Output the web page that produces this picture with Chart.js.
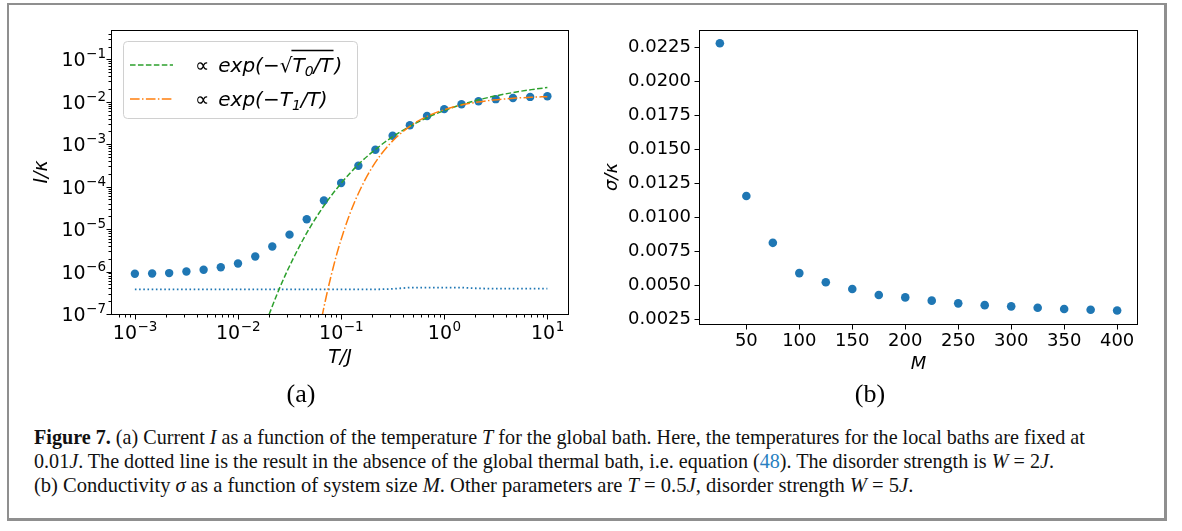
<!DOCTYPE html>
<html>
<head>
<meta charset="utf-8">
<script src="https://cdn.jsdelivr.net/npm/chart.js@4.4.1/dist/chart.umd.min.js"></script>
<style>
  body { margin: 0; background: #fff; width: 1182px; height: 531px; position: relative; overflow: hidden; }
  #frame { position: absolute; left: 7px; top: 3px; width: 1160px; height: 518px; box-sizing: border-box;
           border: 2px solid #8f8f8f; border-right-width: 3px; border-bottom-width: 3px; }
  canvas { position: absolute; }
  #chartA { left: 10px; top: 10px; }
  #chartB { left: 595px; top: 10px; }
  .sub { position: absolute; top: 379px; font-family: "Liberation Serif", serif; font-size: 26px; line-height: 30px; transform: translateX(-50%); }
  .cap { position: absolute; left: 34px; font-family: "Liberation Serif", serif; font-size: 21px; line-height: 22px;
         white-space: nowrap; transform-origin: 0 50%; color: #111; }
  .cap i { font-style: italic; }
  .ref { color: #2a7fc1; }
</style>
</head>
<body>
<div id="frame"></div>
<canvas id="chartA" width="580" height="370"></canvas>
<canvas id="chartB" width="570" height="375"></canvas>
<div class="sub" style="left:301px">(a)</div>
<div class="sub" style="left:870px">(b)</div>
<div class="cap" id="cap1" style="top:426px" data-w="1051"><b>Figure 7.</b> (a) Current <i>I</i> as a function of the temperature <i>T</i> for the global bath. Here, the temperatures for the local baths are fixed at</div>
<div class="cap" id="cap2" style="top:450px" data-w="1020">0.01<i>J</i>. The dotted line is the result in the absence of the global thermal bath, i.e. equation (<span class="ref">48</span>). The disorder strength is <i>W</i> = 2<i>J</i>.</div>
<div class="cap" id="cap3" style="top:474px" data-w="879">(b) Conductivity <i>σ</i> as a function of system size <i>M</i>. Other parameters are <i>T</i> = 0.5<i>J</i>, disorder strength <i>W</i> = 5<i>J</i>.</div>

<script>
"use strict"

// ---- panel (a): current vs temperature ----
const temps = [0.001, 0.00147, 0.00215, 0.00316, 0.00464, 0.00681, 0.01, 0.0147, 0.0215, 0.0316, 0.0464, 0.0681,
  0.1, 0.147, 0.215, 0.316, 0.464, 0.681, 1, 1.47, 2.15, 3.16, 4.64, 6.81, 10]
const current = [8.9e-7, 9.0e-7, 9.2e-7, 1.0e-6, 1.1e-6, 1.26e-6, 1.55e-6, 2.26e-6, 3.9e-6, 7.4e-6, 1.7e-5, 4.7e-5,
  1.22e-4, 3.1e-4, 7.4e-4, 1.58e-3, 2.8e-3, 4.6e-3, 6.7e-3, 8.7e-3, 1.03e-2, 1.15e-2, 1.23e-2, 1.30e-2, 1.35e-2]
const noGlobalBath = [3.8e-7, 3.8e-7, 3.8e-7, 3.8e-7, 3.8e-7, 3.8e-7, 3.8e-7, 3.8e-7, 3.8e-7, 3.8e-7, 3.8e-7, 3.8e-7,
  3.8e-7, 3.8e-7, 3.8e-7, 3.9e-7, 4.2e-7, 4.2e-7, 4.2e-7, 4.2e-7, 4.0e-7, 3.95e-7, 3.95e-7, 3.95e-7, 3.95e-7]

const fitTempsSqrt = [0.02, 0.025, 0.03, 0.04, 0.05, 0.07, 0.1, 0.15, 0.2, 0.3, 0.5, 0.7, 1, 1.5, 2, 3, 5, 7, 10]
const fitSqrt = [9.7e-8, 3.8e-7, 1.03e-6, 4.2e-6, 1.1e-5, 3.9e-5, 1.2e-4, 3.5e-4, 6.5e-4, 1.38e-3, 2.9e-3, 4.35e-3,
  6.2e-3, 8.7e-3, 1.06e-2, 1.34e-2, 1.70e-2, 1.93e-2, 2.16e-2]

const fitTempsLin = [0.065, 0.07, 0.08, 0.09, 0.1, 0.12, 0.15, 0.2, 0.3, 0.5, 0.7, 1, 1.5, 2, 3, 5, 7, 10]
const fitLin = [8.3e-8, 1.97e-7, 8.0e-7, 2.4e-6, 5.7e-6, 2.1e-5, 7.7e-5, 2.85e-4, 1.05e-3, 2.98e-3, 4.66e-3, 6.5e-3,
  8.5e-3, 9.65e-3, 1.10e-2, 1.22e-2, 1.275e-2, 1.32e-2]

// major ticks and their exponents (labels are 10^exp)
const tempMajor = [1e-3, 1e-2, 1e-1, 1, 10]
const tempExp = ['\u22123', '\u22122', '\u22121', '0', '1']
const currentMajor = [1e-7, 1e-6, 1e-5, 1e-4, 1e-3, 1e-2, 1e-1]
const currentExp = ['\u22127', '\u22126', '\u22125', '\u22124', '\u22123', '\u22122', '\u22121']

// ---- panel (b): conductivity vs system size ----
const sizes = [25, 50, 75, 100, 125, 150, 175, 200, 225, 250, 275, 300, 325, 350, 375, 400]
const sigma = [0.0228, 0.01155, 0.0081, 0.00587, 0.0052, 0.0047, 0.00426, 0.00408, 0.00384, 0.00364, 0.00351,
  0.00342, 0.00332, 0.00322, 0.00317, 0.00312]
const sizeTicks = [50, 100, 150, 200, 250, 300, 350, 400]
const sigmaTicks = [0.0025, 0.0050, 0.0075, 0.0100, 0.0125, 0.0150, 0.0175, 0.0200, 0.0225]

const BLUE = '#1f77b4'
const ORANGE = '#ff7f0e'
const GREEN = '#2ca02c'
const TICK_FONT = { family: 'DejaVu Sans', size: 18 }
const TITLE_FONT = { family: 'DejaVu Sans', size: 18, style: 'italic' }
const TITLE_FONT_A = { family: 'DejaVu Sans', size: 19, style: 'italic' }

function pts(xs, ys) {
  return xs.map((x, i) => ({ x: x, y: ys[i] }))
}

function logTicks(majors, min, max) {
  let out = []
  let lo = Math.floor(Math.log10(min)), hi = Math.ceil(Math.log10(max))
  for (let e = lo; e <= hi; e++) {
    for (let m = 1; m <= 9; m++) {
      let v = m * Math.pow(10, e)
      if (v < min * 0.999 || v > max * 1.001) continue
      let major = majors.some(mj => Math.abs(mj - v) / mj < 1e-6)
      out.push({ value: v, major: major })
    }
  }
  return out
}

function expFor(majors, exps, value) {
  let i = majors.findIndex(mj => Math.abs(mj - value) / mj < 1e-6)
  return i >= 0 ? exps[i] : null
}

// frame around the axes + matplotlib-like outward ticks
const frameTicks = {
  id: 'frameTicks',
  afterDraw(chart) {
    const ctx = chart.ctx
    const a = chart.chartArea
    const sx = chart.scales.x, sy = chart.scales.y
    ctx.save()
    ctx.strokeStyle = '#000'
    ctx.lineWidth = 1
    ctx.strokeRect(Math.round(a.left) - 0.5, Math.round(a.top) + 0.5,
      Math.round(a.right - a.left) + 1, Math.round(a.bottom - a.top))
    ctx.beginPath()
    for (const t of sx.ticks) {
      const px = Math.round(sx.getPixelForValue(t.value)) + 0.5
      const len = t.major ? 5 : 3
      ctx.moveTo(px, Math.round(a.bottom) + 0.5)
      ctx.lineTo(px, Math.round(a.bottom) + 0.5 + len)
    }
    for (const t of sy.ticks) {
      const py = Math.round(sy.getPixelForValue(t.value)) + 0.5
      const len = t.major ? 5 : 3
      ctx.moveTo(Math.round(a.left) - 0.5, py)
      ctx.lineTo(Math.round(a.left) - 0.5 - len, py)
    }
    ctx.stroke()
    ctx.restore()
  }
}

// 10^n labels with a real superscript for the log axes of panel (a)
const powerLabels = {
  id: 'powerLabels',
  afterDraw(chart) {
    const ctx = chart.ctx
    const a = chart.chartArea
    const sx = chart.scales.x, sy = chart.scales.y
    const base = '19px "DejaVu Sans"', sup = '13.5px "DejaVu Sans"'
    ctx.save()
    ctx.fillStyle = '#000'
    ctx.textBaseline = 'alphabetic'
    ctx.textAlign = 'left'
    const measure = (e) => {
      ctx.font = base
      const w1 = ctx.measureText('10').width
      ctx.font = sup
      return [w1, ctx.measureText(e).width]
    }
    const put = (e, x, y) => {
      const [w1] = measure(e)
      ctx.font = base
      ctx.fillText('10', x, y)
      ctx.font = sup
      ctx.fillText(e, x + w1 + 0.5, y - 8)
    }
    for (const t of sx.ticks) {
      const e = expFor(tempMajor, tempExp, t.value)
      if (e === null) continue
      const [w1, w2] = measure(e)
      put(e, sx.getPixelForValue(t.value) - (w1 + w2) / 2, a.bottom + 25)
    }
    for (const t of sy.ticks) {
      const e = expFor(currentMajor, currentExp, t.value)
      if (e === null) continue
      const [w1, w2] = measure(e)
      put(e, a.left - 6 - (w1 + w2 + 0.5), sy.getPixelForValue(t.value) + 7)
    }
    ctx.restore()
  }
}

// legend of panel (a), drawn by hand because of the square root in the label
function drawParts(ctx, parts, x, y) {
  let marks = {}
  for (const p of parts) {
    if (p.mark) { marks[p.mark] = x; continue }
    if (p.gap) { x += p.gap; continue }
    ctx.font = p.f
    ctx.fillText(p.t, x, y + (p.dy || 0))
    x += ctx.measureText(p.t).width
  }
  return marks
}

const legendA = {
  id: 'legendA',
  afterDraw(chart) {
    const ctx = chart.ctx
    const a = chart.chartArea
    const bx = a.left + 11, by = a.top + 11, bw = 234, bh = 77
    ctx.save()
    ctx.beginPath()
    ctx.roundRect(bx + 0.5, by + 0.5, bw, bh, 4)
    ctx.fillStyle = 'rgba(255,255,255,0.8)'
    ctx.fill()
    ctx.strokeStyle = '#d0d0d0'
    ctx.lineWidth = 1
    ctx.stroke()

    const rows = [
      { y: by + 24, color: GREEN, dash: [5.55, 2.4] },
      { y: by + 58, color: ORANGE, dash: [9.6, 2.4, 1.5, 2.4] }
    ]
    for (const r of rows) {
      ctx.beginPath()
      ctx.setLineDash(r.dash)
      ctx.strokeStyle = r.color
      ctx.lineWidth = 1.5
      ctx.moveTo(bx + 7, r.y)
      ctx.lineTo(bx + 50, r.y)
      ctx.stroke()
    }
    ctx.setLineDash([])
    ctx.fillStyle = '#000'
    ctx.textBaseline = 'alphabetic'
    const up = '20px "DejaVu Sans"'
    const it = 'italic 20px "DejaVu Sans"'
    const small = 'italic 14px "DejaVu Sans"'
    const tx = bx + 72
    const m = drawParts(ctx, [
      { t: '\u221D', f: up }, { gap: 9 }, { t: 'exp(\u2212', f: it }, { t: '\u221A', f: up }, { mark: 's' },
      { t: 'T', f: it }, { t: '0', f: small, dy: 4 }, { t: '/T', f: it }, { mark: 'e' }, { gap: 2 }, { t: ')', f: it }
    ], tx, rows[0].y + 7)
    ctx.beginPath()
    ctx.strokeStyle = '#000'
    ctx.lineWidth = 1.3
    ctx.moveTo(m.s - 1, rows[0].y - 14.5)
    ctx.lineTo(m.e + 1, rows[0].y - 14.5)
    ctx.stroke()
    drawParts(ctx, [
      { t: '\u221D', f: up }, { gap: 9 }, { t: 'exp(\u2212T', f: it }, { t: '1', f: small, dy: 4 }, { t: '/T)', f: it }
    ], tx, rows[1].y + 7)
    ctx.restore()
  }
}

const xMinA = 6.31e-4, xMaxA = 15.85, yMinA = 1e-7, yMaxA = 0.49

new Chart(document.getElementById('chartA'), {
  type: 'scatter',
  data: {
    datasets: [
      { data: pts(fitTempsLin, fitLin), showLine: true, borderColor: ORANGE, borderWidth: 1.5,
        borderDash: [9.6, 2.4, 1.5, 2.4], pointRadius: 0, cubicInterpolationMode: 'monotone', order: 0 },
      { data: pts(fitTempsSqrt, fitSqrt), showLine: true, borderColor: GREEN, borderWidth: 1.5,
        borderDash: [5.55, 2.4], pointRadius: 0, cubicInterpolationMode: 'monotone', order: 1 },
      { data: pts(temps, noGlobalBath), showLine: true, borderColor: BLUE, borderWidth: 1.8,
        borderDash: [1.6, 2.6], pointRadius: 0, order: 2 },
      { data: pts(temps, current), backgroundColor: BLUE, borderWidth: 0, pointRadius: 4.2, order: 3 }
    ]
  },
  options: {
    responsive: false,
    devicePixelRatio: 1,
    animation: false,
    events: [],
    layout: { padding: { left: 0, top: 20, right: 22, bottom: 0 } },
    plugins: { legend: { display: false }, tooltip: { enabled: false } },
    scales: {
      x: {
        type: 'logarithmic', min: xMinA, max: xMaxA,
        afterBuildTicks: (s) => { s.ticks = logTicks(tempMajor, xMinA, xMaxA) },
        afterFit: (s) => { s.height = 66 },
        grid: { drawOnChartArea: false, drawTicks: true, tickLength: 5, tickColor: 'rgba(0,0,0,0)' },
        border: { display: false },
        ticks: { autoSkip: false, maxRotation: 0, padding: 2, color: '#000', font: TICK_FONT, callback: () => '' },
        title: { display: true, text: 'T/J', color: '#000', font: TITLE_FONT_A, padding: { top: 0, bottom: 11 } }
      },
      y: {
        type: 'logarithmic', min: yMinA, max: yMaxA,
        afterBuildTicks: (s) => { s.ticks = logTicks(currentMajor, yMinA, yMaxA) },
        afterFit: (s) => { s.width = 102 },
        grid: { drawOnChartArea: false, drawTicks: true, tickLength: 5, tickColor: 'rgba(0,0,0,0)' },
        border: { display: false },
        ticks: { autoSkip: false, padding: 2, color: '#000', font: TICK_FONT, callback: () => '' },
        title: { display: true, text: 'I/\u03BA', color: '#000', font: TITLE_FONT_A, padding: { top: 21, bottom: 0 } }
      }
    }
  },
  plugins: [frameTicks, powerLabels, legendA]
})

new Chart(document.getElementById('chartB'), {
  type: 'scatter',
  data: {
    datasets: [
      { data: pts(sizes, sigma), backgroundColor: BLUE, borderWidth: 0, pointRadius: 4.3 }
    ]
  },
  options: {
    responsive: false,
    devicePixelRatio: 1,
    animation: false,
    events: [],
    layout: { padding: { left: 0, top: 20, right: 28, bottom: 0 } },
    plugins: { legend: { display: false }, tooltip: { enabled: false } },
    scales: {
      x: {
        type: 'linear', min: 6.25, max: 418.75,
        afterBuildTicks: (s) => { s.ticks = sizeTicks.map(v => ({ value: v, major: true })) },
        afterFit: (s) => { s.height = 61 },
        grid: { drawOnChartArea: false, drawTicks: true, tickLength: 5, tickColor: 'rgba(0,0,0,0)' },
        border: { display: false },
        ticks: { autoSkip: false, maxRotation: 0, padding: 2, color: '#000', font: TICK_FONT,
          callback: (v) => String(v) },
        title: { display: true, text: 'M', color: '#000', font: TITLE_FONT, padding: { top: 0, bottom: 10 } }
      },
      y: {
        type: 'linear', min: 0.00212, max: 0.02378,
        afterBuildTicks: (s) => { s.ticks = sigmaTicks.map(v => ({ value: v, major: true })) },
        afterFit: (s) => { s.width = 105 },
        grid: { drawOnChartArea: false, drawTicks: true, tickLength: 5, tickColor: 'rgba(0,0,0,0)' },
        border: { display: false },
        ticks: { autoSkip: false, padding: 4, color: '#000', font: TICK_FONT,
          callback: (v) => v.toFixed(4) },
        title: { display: true, text: '\u03C3/\u03BA', color: '#000', font: TITLE_FONT, padding: { top: 7, bottom: 0 } }
      }
    }
  },
  plugins: [frameTicks]
})

// squeeze the caption lines to the widths in the figure
for (const id of ['cap1', 'cap2', 'cap3']) {
  const el = document.getElementById(id)
  const target = Number(el.dataset.w)
  el.style.transform = 'scaleX(' + (target / el.scrollWidth) + ')'
}
</script>
</body>
</html>
